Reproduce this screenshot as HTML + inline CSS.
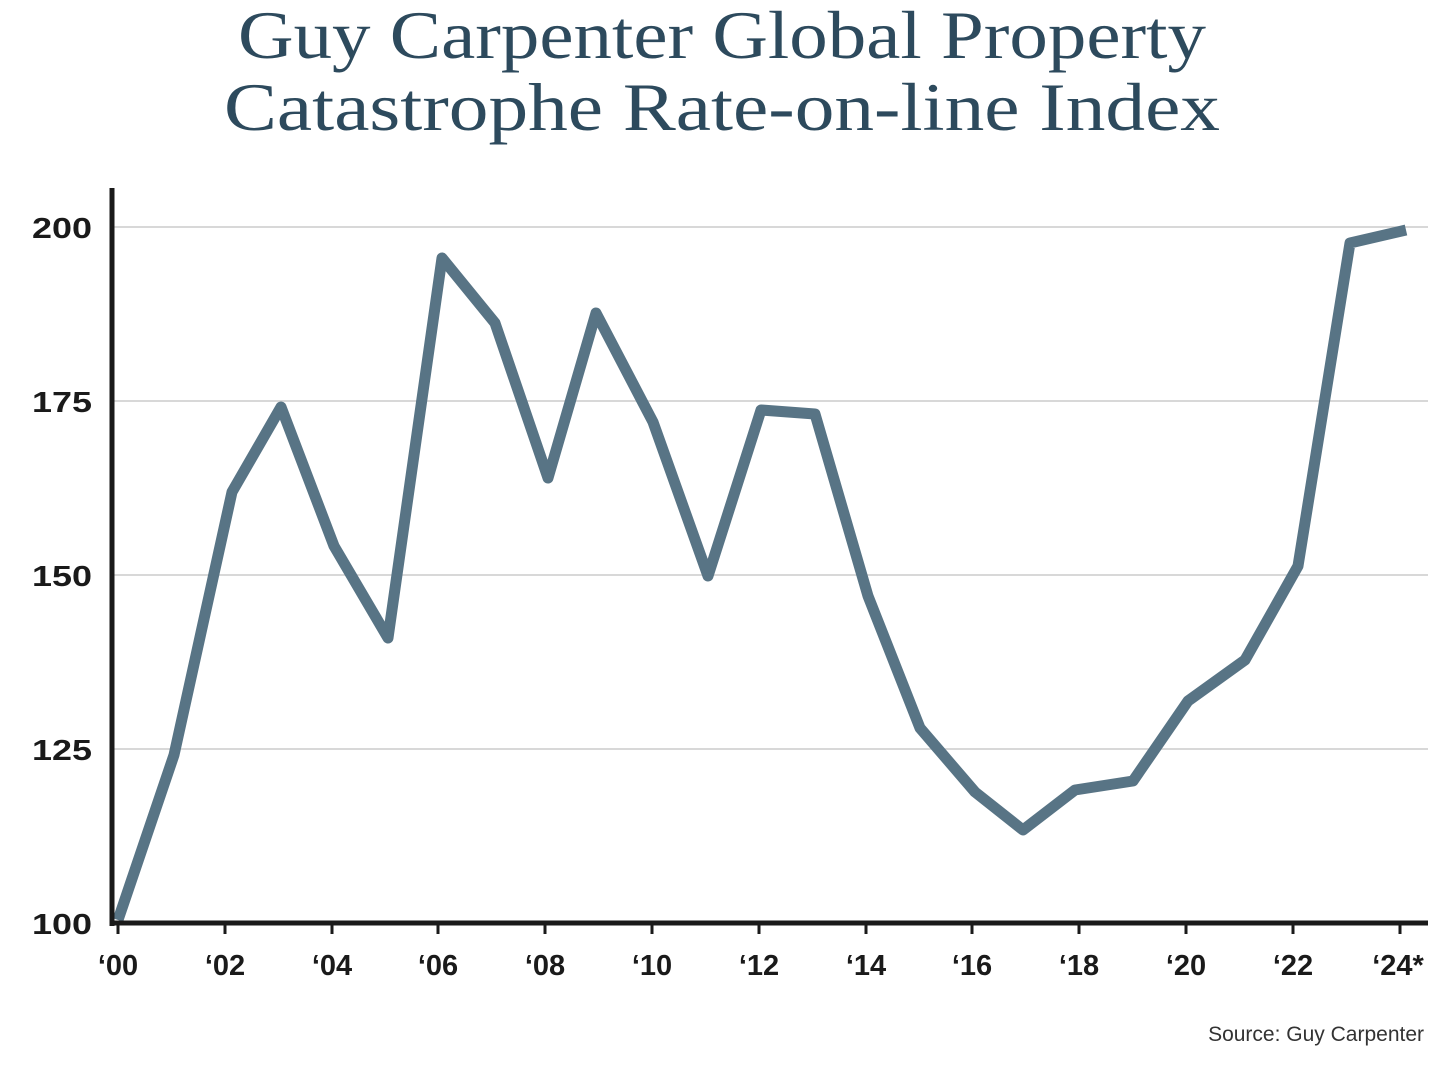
<!DOCTYPE html>
<html><head><meta charset="utf-8"><style>
html,body{margin:0;padding:0;background:#fff;}
</style></head><body>
<svg width="1430" height="1060" xmlns="http://www.w3.org/2000/svg">
<rect width="1430" height="1060" fill="#fff"/>
<g font-family="Liberation Serif, serif" font-size="68" fill="#2d4a5d">
<text x="238" y="58" textLength="968" lengthAdjust="spacingAndGlyphs">Guy Carpenter Global Property</text>
<text x="224" y="130" textLength="996" lengthAdjust="spacingAndGlyphs">Catastrophe Rate-on-line Index</text>
</g>
<g stroke="#cccccc" stroke-width="1.5">
<line x1="112" y1="227" x2="1428" y2="227"/>
<line x1="112" y1="401" x2="1428" y2="401"/>
<line x1="112" y1="575" x2="1428" y2="575"/>
<line x1="112" y1="749" x2="1428" y2="749"/>
</g>
<g font-family="Liberation Sans, sans-serif" font-size="29" font-weight="bold" fill="#1a1a1a" text-anchor="end">
<text x="92" y="238" textLength="60" lengthAdjust="spacingAndGlyphs">200</text>
<text x="92" y="412" textLength="60" lengthAdjust="spacingAndGlyphs">175</text>
<text x="92" y="586" textLength="60" lengthAdjust="spacingAndGlyphs">150</text>
<text x="92" y="760" textLength="60" lengthAdjust="spacingAndGlyphs">125</text>
<text x="92" y="934" textLength="60" lengthAdjust="spacingAndGlyphs">100</text>
</g>
<polyline fill="none" stroke="#587485" stroke-width="11" stroke-linejoin="round" stroke-linecap="butt"
points="118,920 174,755 232,492 281,407 334,546 388,638 442,258 495,323 548,478 596,313 653,422 708,576 761,410 815,414 868,596 920,728 975,792 1023,830 1075,790 1133,781 1188,701 1245,660 1298,566 1350,243 1406,230"/>
<line x1="112" y1="188" x2="112" y2="926" stroke="#1a1a1a" stroke-width="5"/>
<line x1="110" y1="923" x2="1428" y2="923" stroke="#1a1a1a" stroke-width="5"/>
<g stroke="#1a1a1a" stroke-width="3">
<line x1="118" y1="923" x2="118" y2="934"/><line x1="225" y1="923" x2="225" y2="934"/>
<line x1="332" y1="923" x2="332" y2="934"/><line x1="438" y1="923" x2="438" y2="934"/>
<line x1="545" y1="923" x2="545" y2="934"/><line x1="652" y1="923" x2="652" y2="934"/>
<line x1="759" y1="923" x2="759" y2="934"/><line x1="866" y1="923" x2="866" y2="934"/>
<line x1="972" y1="923" x2="972" y2="934"/><line x1="1079" y1="923" x2="1079" y2="934"/>
<line x1="1186" y1="923" x2="1186" y2="934"/><line x1="1293" y1="923" x2="1293" y2="934"/>
<line x1="1400" y1="923" x2="1400" y2="934"/>
</g>
<g font-family="Liberation Sans, sans-serif" font-size="29" font-weight="bold" fill="#1a1a1a" text-anchor="middle">
<text x="118" y="975">‘00</text><text x="225" y="975">‘02</text><text x="332" y="975">‘04</text>
<text x="438" y="975">‘06</text><text x="545" y="975">‘08</text><text x="652" y="975">‘10</text>
<text x="759" y="975">‘12</text><text x="866" y="975">‘14</text><text x="972" y="975">‘16</text>
<text x="1079" y="975">‘18</text><text x="1186" y="975">‘20</text><text x="1293" y="975">‘22</text>
<text x="1398" y="975">‘24*</text>
</g>
<text x="1424" y="1041" text-anchor="end" font-family="Liberation Sans, sans-serif" font-size="21" fill="#333">Source: Guy Carpenter</text>
</svg>
</body></html>
